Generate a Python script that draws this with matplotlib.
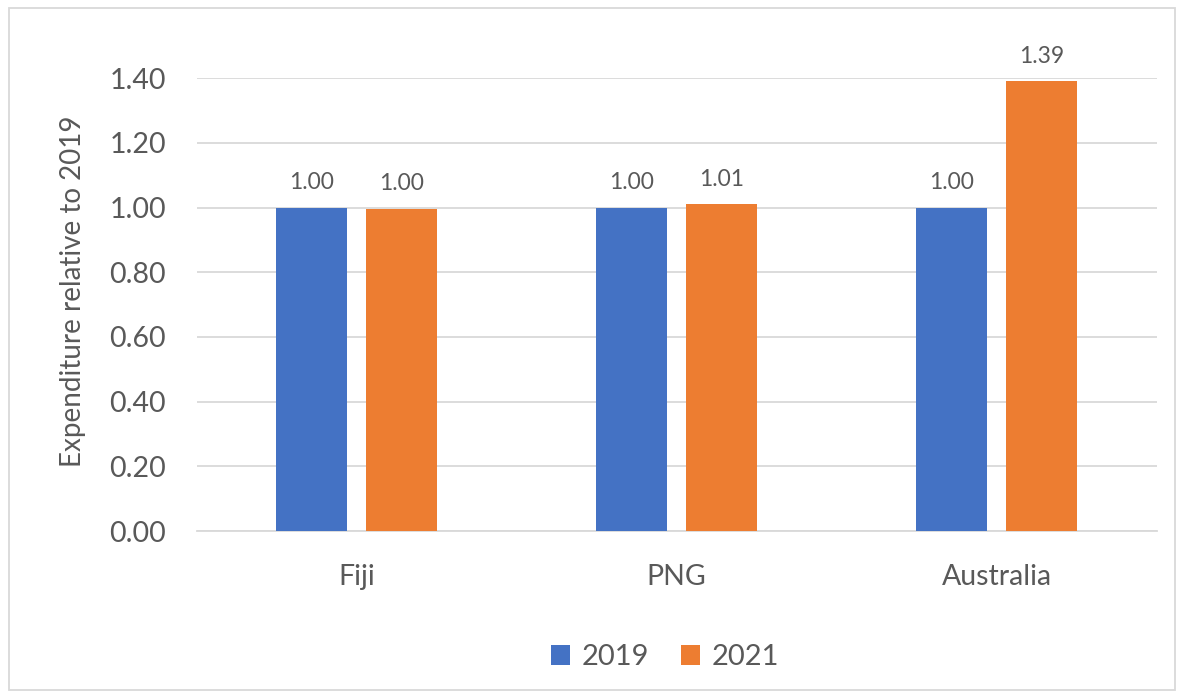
import numpy as np
import matplotlib.pyplot as plt
from matplotlib.patches import Rectangle

plt.rcParams['font.family'] = ['Lato', 'DejaVu Sans']

countries = ['Fiji', 'PNG', 'Australia']
years = ['2019', '2021']
vals_2019 = [1.00, 1.00, 1.00]
vals_2021 = [0.996, 1.01, 1.39]
colors = ['#4472C4', '#ED7D31']
txt = '#595959'

fig = plt.figure(figsize=(11.84, 6.97), dpi=100)
ax = fig.add_axes([0.166, 0.238, 0.811, 0.650])

x = np.arange(len(countries))
w = 0.222
off = 0.141
for vals, c, lab, sgn in zip([vals_2019, vals_2021], colors, years, [-1, 1]):
    bars = ax.bar(x + sgn * off, vals, width=w, color=c, label=lab, zorder=3)
    for b, v in zip(bars, vals):
        ax.text(b.get_x() + b.get_width() / 2, v + 0.045, f'{v:.2f}',
                ha='center', va='bottom', fontsize=16.5, color=txt)

ax.set_xlim(-0.5, 2.5)
ax.set_ylim(0, 1.4)
ax.set_yticks(np.arange(0, 1.41, 0.2))
ax.set_yticklabels([f'{t:.2f}' for t in np.arange(0, 1.41, 0.2)])
ax.set_xticks(x)
ax.set_xticklabels(countries)
ax.tick_params(axis='both', length=0, colors=txt, labelsize=20.5)
ax.tick_params(axis='x', pad=24)
ax.tick_params(axis='y', pad=22)
ax.grid(axis='y', color='#D9D9D9', linewidth=1.3, zorder=0)
for s in ['top', 'right', 'left']:
    ax.spines[s].set_visible(False)
ax.spines['bottom'].set_color('#D9D9D9')
ax.spines['bottom'].set_linewidth(1.3)
ax.set_ylabel('Expenditure relative to 2019', fontsize=20, color=txt)
ax.yaxis.set_label_coords(-0.115, 0.53)

leg = fig.legend(loc='center', bbox_to_anchor=(0.562, 0.057), ncol=2, frameon=False,
                 fontsize=21, handlelength=0.65, handleheight=0.65, handletextpad=0.4,
                 columnspacing=1.1)
for t in leg.get_texts():
    t.set_color(txt)

fig.patches.append(Rectangle((0.008, 0.01), 0.984, 0.978, transform=fig.transFigure,
                             fill=False, edgecolor='#D9D9D9', linewidth=1.3))

fig.savefig('out.png', dpi=100, facecolor='white')
